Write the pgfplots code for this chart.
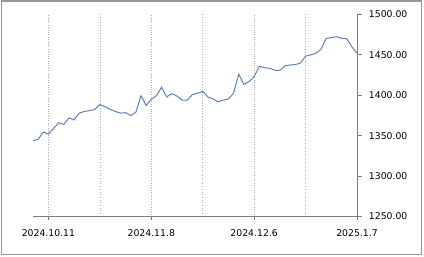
\documentclass[border=0pt]{standalone}
\usepackage{fontspec}
\setmainfont{DejaVu Sans}
\usepackage{pgfplots}
\pgfplotsset{compat=1.18}
\definecolor{linec}{RGB}{95,128,180}
\definecolor{axc}{RGB}{125,125,125}
\definecolor{framec}{RGB}{150,150,150}
\definecolor{gridc}{RGB}{170,170,170}
\begin{document}
\begin{tikzpicture}[x=1bp,y=1bp]
\useasboundingbox (0,0) rectangle (424,257);
\draw[framec, line width=1.1bp] (1.5,2.5) rectangle (421.5,256);
\begin{axis}[
  at={(33bp,40.5bp)}, anchor=south west,
  scale only axis, width=324bp, height=202bp,
  xmin=0, xmax=63, ymin=1250, ymax=1500,
  axis x line=bottom, axis y line=right,
  axis line style={axc, line width=0.9bp, -},
  xtick={3,23,43,63},
  xticklabels={2024.10.11,2024.11.8,2024.12.6,2025.1.7},
  minor xtick={13,33,53},
  xmajorgrids, xminorgrids,
  grid style={gridc, dotted, line width=0.7bp},
  minor grid style={gridc, dotted, line width=0.7bp},
  ytick={1250,1300,1350,1400,1450,1500},
  tick style={axc, line width=0.8bp},
  xtick style={/pgfplots/major tick length=3.5bp},
  ytick style={/pgfplots/major tick length=5bp},
  minor tick length=0pt,
  tick align=outside,
  yticklabel style={anchor=west, inner sep=0pt, xshift=7.5bp},
  xticklabel style={anchor=north, inner sep=0pt, yshift=-9bp},
  ticklabel style={font=\fontsize{9.3bp}{11bp}\selectfont, text=black},
  /pgf/number format/assume math mode=true,
  yticklabel={\pgfmathprintnumber[fixed, fixed zerofill, precision=2, 1000 sep={}]{\tick}},
  clip=false,
]
\addplot[linec, line width=1bp, mark=none] coordinates {
(0,1344) (1,1345.5) (2,1354.5) (3,1352) (4,1359) (5,1366) (6,1364) (7,1372)
(8,1369.5) (9,1378) (10,1380) (11,1381) (12,1382.5) (13,1388.5) (14,1386) (15,1382.5)
(16,1380) (17,1378) (18,1378.5) (19,1375) (20,1379) (21,1399.5) (22,1387.5) (23,1395)
(24,1399.5) (25,1410) (26,1398) (27,1402) (28,1399) (29,1394) (30,1394) (31,1401)
(32,1402.5) (33,1405) (34,1398) (35,1395.5) (36,1392) (37,1394) (38,1395.5) (39,1402.5)
(40,1426) (41,1413.5) (42,1417) (43,1423) (44,1436) (45,1434) (46,1433.5) (47,1431)
(48,1431) (49,1436.5) (50,1437.5) (51,1438) (52,1440) (53,1448.5) (54,1450) (55,1452)
(56,1457) (57,1470) (58,1471.5) (59,1472.5) (60,1470.5) (61,1470) (62,1460) (63,1452)
};
\end{axis}
\end{tikzpicture}
\end{document}
